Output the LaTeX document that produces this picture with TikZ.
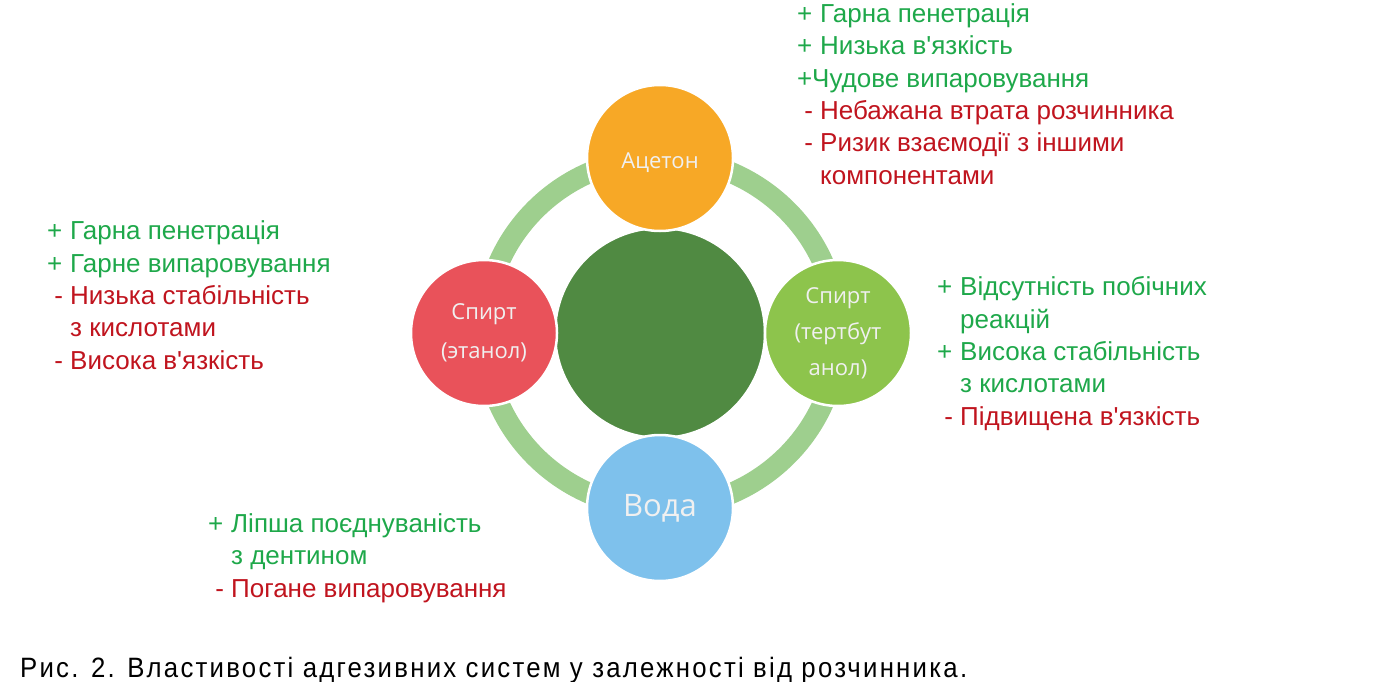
\documentclass[tikz,border=0pt]{standalone}
\usepackage{fontspec}
\setmainfont{Liberation Sans}
\newfontfamily\circfont{Open Sans}
\newfontfamily\capfont[FakeStretch=0.92, LetterSpace=8]{Liberation Sans}
\usepackage{xcolor}
\usetikzlibrary{backgrounds}
\definecolor{acetorange}{RGB}{247,168,38}
\definecolor{ethred}{RGB}{233,82,90}
\definecolor{butgreen}{RGB}{141,196,76}
\definecolor{waterblue}{RGB}{126,193,236}
\definecolor{coregreen}{RGB}{80,138,66}
\definecolor{ringgreen}{RGB}{158,207,142}
\definecolor{plusgreen}{RGB}{30,168,74}
\definecolor{minusred}{RGB}{192,20,30}
\newcommand\pro[1]{\textcolor{plusgreen}{\makebox[23pt][l]{+}#1}}
\newcommand\con[1]{\textcolor{minusred}{\makebox[23pt][c]{-}#1}}
\newcommand\cont[2]{\textcolor{#1}{\hspace*{23pt}#2}}
\newcommand\ap{\textquotesingle}

\begin{document}
\begin{tikzpicture}[x=1pt, y=-1pt,
    solvent/.style={circle, draw=white, line width=2.5pt, minimum size=146pt,
      inner sep=0pt, align=center, text=white!94!black,
      font=\circfont\fontsize{22}{39}\selectfont},
    ring/.style={ringgreen, line width=21pt},
    notes/.style={anchor=base west, inner sep=0pt, align=left,
      font=\fontsize{26}{32.3}\selectfont}
]
\useasboundingbox (0,0) rectangle (1400,682);
\node[circle, fill=coregreen, draw=white, line width=2.5pt, minimum size=210pt] (core) at (660,333) {};
\node[solvent, fill=acetorange] (aceton) at (660,158) {\raisebox{-5pt}[\height][\depth]{Ацетон}};
\node[solvent, fill=ethred] (ethanol) at (484,333) {Спирт\\(этанол)};
\node[solvent, fill=butgreen, font=\circfont\fontsize{22}{36}\selectfont] (butanol) at (838,333) {Спирт\\(тертбут\\анол)};
\node[solvent, fill=waterblue, font=\circfont\fontsize{31}{36}\selectfont] (water) at (660,508) {Вода};

\begin{scope}[on background layer]
\draw[ring] (aceton.center) to[out=0, in=90] (butanol.center);
\draw[ring] (butanol.center) to[out=-90, in=0] (water.center);
\draw[ring] (water.center) to[out=180, in=-90] (ethanol.center);
\draw[ring] (ethanol.center) to[out=90, in=180] (aceton.center);
\end{scope}

% base anchor sits on the last line
\node[notes] (acnotes) at (797,184) {\pro{Гарна пенетрація}\\
  \pro{Низька в\ap язкість}\\
  \textcolor{plusgreen}{\makebox[15pt][l]{+}Чудове випаровування}\\
  \con{Небажана втрата розчинника}\\
  \con{Ризик взаємодії з іншими}\\
  \cont{minusred}{компонентами}};
\node[notes] (etnotes) at (47,369) {\pro{Гарна пенетрація}\\
  \pro{Гарне випаровування}\\
  \con{Низька стабільність}\\
  \cont{minusred}{з кислотами}\\
  \con{Висока в\ap язкість}};
\node[notes] (bunotes) at (937,425) {\pro{Відсутність побічних}\\
  \cont{plusgreen}{реакцій}\\
  \pro{Висока стабільність}\\
  \cont{plusgreen}{з кислотами}\\
  \con{Підвищена в\ap язкість}};
\node[notes] (wanotes) at (208,597) {\pro{Ліпша поєднуваність}\\
  \cont{plusgreen}{з дентином}\\
  \con{Погане випаровування}};

\node[anchor=base west, inner sep=0pt, font=\capfont\fontsize{28}{30}\selectfont] (caption) at (20,677)
  {Рис. 2. Властивості адгезивних систем у залежності від розчинника.};
\end{tikzpicture}
\end{document}
